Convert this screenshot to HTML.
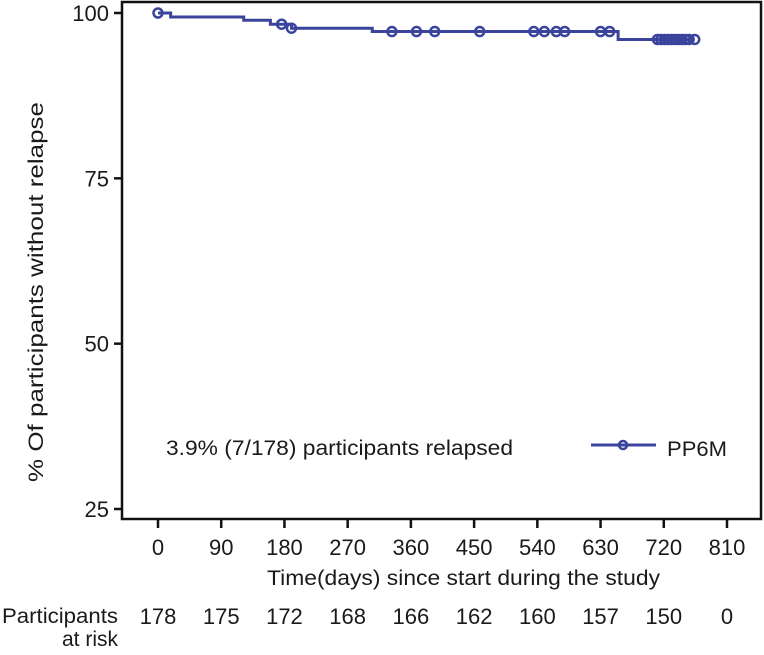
<!DOCTYPE html>
<html><head><meta charset="utf-8"><style>
body{margin:0;background:#fff;}
svg text{font-family:"Liberation Sans",Arial,sans-serif;fill:#1a1a1a;}
</style></head><body>
<svg id="chart" width="764" height="650" viewBox="0 0 764 650">
<rect x="122" y="2" width="639" height="517" fill="none" stroke="#111" stroke-width="2.5"/>
<g id="axes"></g>
<g id="curve"></g>
<text x="166" y="455" font-size="21" textLength="347" lengthAdjust="spacingAndGlyphs">3.9% (7/178) participants relapsed</text>
<g>
<line x1="591" y1="445" x2="656" y2="445" stroke="#3a449c" stroke-width="3"/>
<circle cx="623" cy="445" r="4" fill="none" stroke="#3a449c" stroke-width="2.5"/>
<text x="667" y="456" font-size="21" textLength="60" lengthAdjust="spacingAndGlyphs">PP6M</text>
</g>
<text transform="translate(43,482) rotate(-90)" font-size="21" textLength="380" lengthAdjust="spacingAndGlyphs">% Of participants without relapse</text>
<text x="267" y="585" font-size="21" textLength="393" lengthAdjust="spacingAndGlyphs">Time(days) since start during the study</text>
<text x="2" y="623" font-size="21" textLength="116" lengthAdjust="spacingAndGlyphs">Participants</text>
<text x="118" y="646" text-anchor="end" font-size="21">at risk</text>
<g id="risk"></g>
</svg>
<script>
const xTicks=[0,90,180,270,360,450,540,630,720,810];
const yTicks=[25,50,75,100];
const atRisk=[178,175,172,168,166,162,160,157,150,0];
const stepTimes=[0,18,122,160,190,305,655,764];
const stepSurv=[100,99.4,98.9,98.3,97.7,97.2,96.0,96.0];
const censorTimes=[0,176,190,333,368,394,458,535,550,567,579,630,643,711,716,721,726,731,736,741,746,751,756,764];
const X=d=>158+d*(727-158)/810;
const Y=v=>13+(100-v)*(509-13)/75;
const NS="http://www.w3.org/2000/svg";
function mk(t,a,p){const e=document.createElementNS(NS,t);for(const k in a)e.setAttribute(k,a[k]);p.appendChild(e);return e;}
const ax=document.getElementById('axes');
xTicks.forEach(t=>{
 const l=mk('line',{x1:X(t),x2:X(t),y1:519,y2:528,stroke:'#111','stroke-width':2.5},ax);
 
 
 const tx=mk('text',{x:X(t),y:555,'text-anchor':'middle','font-size':22},ax);tx.textContent=t;
 
 
});
yTicks.forEach(t=>{
 const l=mk('line',{x1:114,x2:122,y1:Y(t),y2:Y(t),stroke:'#111','stroke-width':2.5},ax);
 
 
 const tx=mk('text',{x:109,y:Y(t)+8,'text-anchor':'end','font-size':22},ax);tx.textContent=t;
 
 
});
const rk=document.getElementById('risk');
atRisk.forEach((n,i)=>{
 const tx=mk('text',{x:X(xTicks[i]),y:624,'text-anchor':'middle','font-size':22},rk);tx.textContent=n;
 
 
});
const cv=document.getElementById('curve');
let d='M'+X(stepTimes[0])+','+Y(stepSurv[0]);
for(let i=1;i<stepTimes.length;i++){d+=' H'+X(stepTimes[i])+' V'+Y(stepSurv[i]);}
const p=mk('path',{d:d,fill:'none',stroke:'#3a449c','stroke-width':3},cv);


function survAt(t){let s=100;for(let i=0;i<stepTimes.length;i++){if(stepTimes[i]<=t)s=stepSurv[i];}return s;}
censorTimes.forEach(t=>{
 const c=mk('circle',{cx:X(t),cy:Y(survAt(t)),r:4.5,fill:'none',stroke:'#3a449c','stroke-width':2.5},cv);
 
 
});
</script>
</body></html>
